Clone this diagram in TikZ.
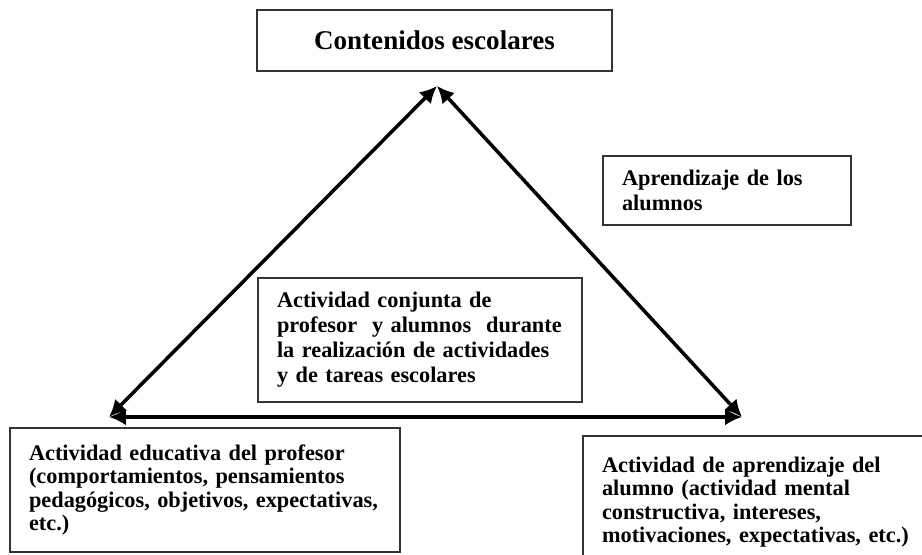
\documentclass[tikz,border=0pt]{standalone}
\usepackage{fontspec}
\setmainfont{Liberation Serif}
\usetikzlibrary{arrows.meta}

\begin{document}
\begin{tikzpicture}[x = 0.02cm, y = -0.02cm]
            \tikzset{box/.style = {shape=rectangle, draw=black!80, line width=0.9pt, inner xsep=0.38cm, inner ysep=0pt, align=left, font=\bfseries\fontsize{12.7}{14.2}\selectfont}}
            \tikzset{edge/.style = {<->, > = {Latex[length=3.4mm, width=3.4mm]}, line width=2pt}}

            \clip (0, 0) rectangle (922, 554);

            \node[box, minimum width=7.1cm, minimum height=1.22cm, align=center, font=\bfseries\fontsize{15.4}{18}\selectfont] (0) at (434.5, 40.5) {Contenidos escolares};

            \node[box, text width=4.2cm, minimum height=1.38cm] (1) at (727, 190.5) {Aprendizaje de los\\alumnos};

            \node[box, text width=5.72cm, minimum height=2.48cm] (2) at (420, 340) {Actividad conjunta de\\profesor\ \ y alumnos\ \ durante\\la realización de actividades\\y de tareas escolares};

            \node[box, text width=7.04cm, minimum height=2.48cm, font=\bfseries\fontsize{12.7}{13.3}\selectfont] (3) at (205, 490) {Actividad educativa del profesor\\(comportamientos, pensamientos\\pedagógicos, objetivos, expectativas,\\etc.)};

            \node[box, text width=6.28cm, minimum height=2.64cm, font=\bfseries\fontsize{12.7}{13.3}\selectfont] (4) at (759, 502) {Actividad de aprendizaje del\\alumno (actividad mental\\constructiva, intereses,\\motivaciones, expectativas, etc.)};

            \coordinate (5) at (437, 86);
            \coordinate (6) at (109, 417);
            \coordinate (7) at (742, 417);

            \draw[edge] (5) to (6);
            \draw[edge] (5) to (7);
            \draw[edge] (6) to (7);
        \end{tikzpicture}
\end{document}
